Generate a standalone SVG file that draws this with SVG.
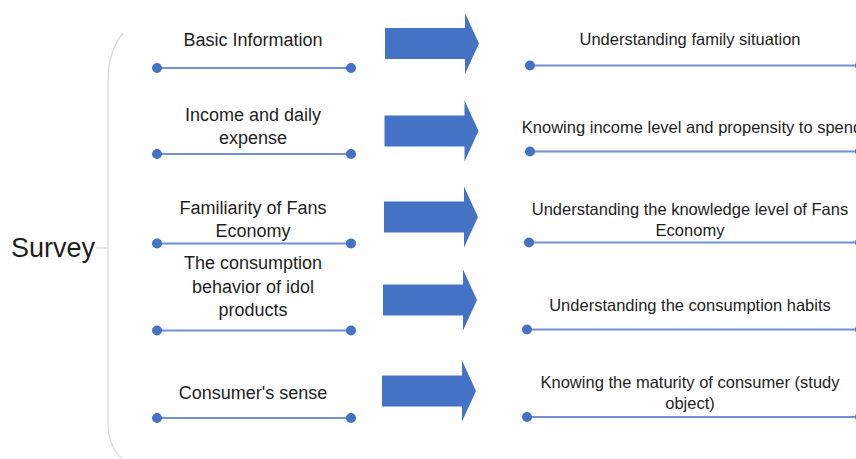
<svg xmlns="http://www.w3.org/2000/svg" width="856" height="459" viewBox="0 0 856 459">
  <style>
    .lbl { font-family: "Liberation Sans", Arial, sans-serif; fill: #1e1e1e; text-anchor: middle; }
    .l { font-size: 18px; }
    .r { font-size: 16.5px; }
    .bar { stroke: #6f90d6; stroke-width: 2; fill: none; }
    .dot { fill: #4472c4; }
    .arrow { fill: #4472c4; }
    .brace { stroke: #dcdcdc; stroke-width: 1.3; fill: none; }
  </style>
  <defs>
    <!-- block arrow, drawn with its body starting at x=0 and centred on y=0 -->
    <polygon id="blockArrow" class="arrow" points="0,-15.5 80,-15.5 80,-30.5 94,0 80,30.5 80,15.5 0,15.5"/>
  </defs>
  <rect width="856" height="459" fill="#ffffff"/>

  <!-- root label and bracket -->
  <g id="survey">
    <text class="lbl" x="53" y="257" style="font-size:27px">Survey</text>
  </g>
  <g id="connectors">
    <path class="brace" d="M123,33 Q108,52 108,80 L108,425 Q108,445 122,459"/>
    <line class="brace" x1="96" y1="248" x2="108" y2="248"/>
  </g>

  <!-- survey topics -->
  <g id="topic-basic">
    <text class="lbl l" x="253" y="46">Basic Information</text>
    <line class="bar" x1="157" y1="68" x2="351" y2="68"/>
    <circle class="dot" cx="157" cy="68" r="5"/>
    <circle class="dot" cx="351" cy="68" r="5"/>
  </g>
  <g id="topic-income">
    <text class="lbl l" x="253" y="121">Income and daily</text>
    <text class="lbl l" x="253" y="144">expense</text>
    <line class="bar" x1="157" y1="154" x2="351" y2="154"/>
    <circle class="dot" cx="157" cy="154" r="5"/>
    <circle class="dot" cx="351" cy="154" r="5"/>
  </g>
  <g id="topic-familiarity">
    <text class="lbl l" x="253" y="214">Familiarity of Fans</text>
    <text class="lbl l" x="253" y="237">Economy</text>
    <line class="bar" x1="157" y1="243.5" x2="351" y2="243.5"/>
    <circle class="dot" cx="157" cy="243.5" r="5"/>
    <circle class="dot" cx="351" cy="243.5" r="5"/>
  </g>
  <g id="topic-consumption">
    <text class="lbl l" x="253" y="269">The consumption</text>
    <text class="lbl l" x="253" y="293">behavior of idol</text>
    <text class="lbl l" x="253" y="316">products</text>
    <line class="bar" x1="157" y1="330.5" x2="351" y2="330.5"/>
    <circle class="dot" cx="157" cy="330.5" r="5"/>
    <circle class="dot" cx="351" cy="330.5" r="5"/>
  </g>
  <g id="topic-sense">
    <text class="lbl l" x="253" y="399">Consumer's sense</text>
    <line class="bar" x1="157" y1="418" x2="351" y2="418"/>
    <circle class="dot" cx="157" cy="418" r="5"/>
    <circle class="dot" cx="351" cy="418" r="5"/>
  </g>

  <!-- arrows -->
  <g id="arrows">
    <use href="#blockArrow" x="385" y="43.5"/>
    <use href="#blockArrow" x="384.5" y="131"/>
    <use href="#blockArrow" x="384" y="217"/>
    <use href="#blockArrow" x="383" y="300"/>
    <use href="#blockArrow" x="382" y="391"/>
  </g>

  <!-- purposes -->
  <g id="purpose-family">
    <text class="lbl r" x="690" y="45">Understanding family situation</text>
    <line class="bar" x1="530" y1="65.5" x2="860" y2="65.5"/>
    <circle class="dot" cx="530" cy="65.5" r="5"/>
    <circle class="dot" cx="860" cy="65.5" r="5"/>
  </g>
  <g id="purpose-income">
    <text class="lbl r" x="692" y="133">Knowing income level and propensity to spend</text>
    <line class="bar" x1="530" y1="151.5" x2="860" y2="151.5"/>
    <circle class="dot" cx="530" cy="151.5" r="5"/>
    <circle class="dot" cx="860" cy="151.5" r="5"/>
  </g>
  <g id="purpose-knowledge">
    <text class="lbl r" x="690" y="215">Understanding the knowledge level of Fans</text>
    <text class="lbl r" x="690" y="236">Economy</text>
    <line class="bar" x1="529" y1="242.5" x2="860" y2="242.5"/>
    <circle class="dot" cx="529" cy="242.5" r="5"/>
    <circle class="dot" cx="860" cy="242.5" r="5"/>
  </g>
  <g id="purpose-habits">
    <text class="lbl r" x="690" y="311">Understanding the consumption habits</text>
    <line class="bar" x1="527" y1="329.5" x2="860" y2="329.5"/>
    <circle class="dot" cx="527" cy="329.5" r="5"/>
    <circle class="dot" cx="860" cy="329.5" r="5"/>
  </g>
  <g id="purpose-maturity">
    <text class="lbl r" x="690" y="388">Knowing the maturity of consumer (study</text>
    <text class="lbl r" x="690" y="409">object)</text>
    <line class="bar" x1="527" y1="417" x2="860" y2="417"/>
    <circle class="dot" cx="527" cy="417" r="5"/>
    <circle class="dot" cx="860" cy="417" r="5"/>
  </g>
</svg>
